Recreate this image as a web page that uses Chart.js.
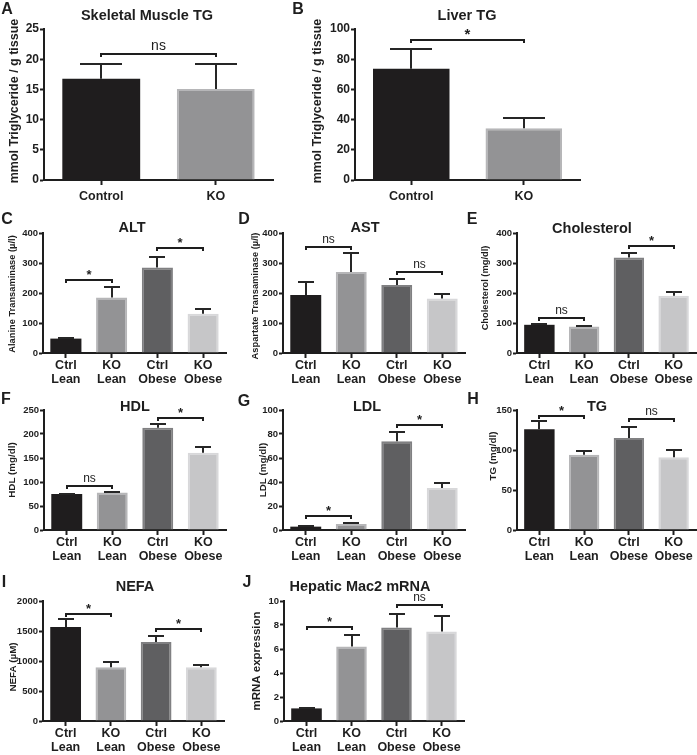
<!DOCTYPE html>
<html>
<head>
<meta charset="utf-8">
<script src="https://cdn.jsdelivr.net/npm/chart.js@4.4.0/dist/chart.umd.min.js"></script>
<style>
  body { margin: 0; background: #fff; width: 697px; height: 755px; position: relative; overflow: hidden; }
  canvas { position: absolute; }
</style>
</head>
<body>
<script>
// categories
var tissueLabels = ['Control', 'KO'];
var groupLabels = [['Ctrl', 'Lean'], ['KO', 'Lean'], ['Ctrl', 'Obese'], ['KO', 'Obese']];

// means and SEM (upper error only)
var muscleTG = [16.75, 15.05];     var muscleTGSem = [2.5, 4.2];
var liverTG = [73.7, 34.3];        var liverTGSem = [13.2, 6.6];
var alt = [48, 185, 285, 131];     var altSem = [2, 36, 35, 15];
var ast = [193, 270, 227, 182];    var astSem = [45, 62, 20, 15];
var chol = [94, 88, 318, 191];     var cholSem = [2, 2, 14, 13];
var hdl = [75, 78, 213, 161];      var hdlSem = [1, 1.5, 7, 11];
var ldl = [2.8, 5, 74, 35];        var ldlSem = [0.3, 0.6, 8, 4];
var tg = [126, 94, 115, 91];       var tgSem = [10, 4.5, 14, 9];
var nefa = [1565, 895, 1315, 895]; var nefaSem = [130, 85, 100, 40];
var mac2 = [1.05, 6.2, 7.8, 7.45]; var mac2Sem = [0.07, 0.95, 1.15, 1.3];

// significance brackets: [from, to, height, label]
var muscleSig = [[0, 1, 20.9, 'ns']];
var liverSig = [[0, 1, 92.4, '*']];
var altSig = [[0, 1, 243, '*'], [2, 3, 350, '*']];
var astSig = [[0, 1, 352, 'ns'], [2, 3, 271, 'ns']];
var cholSig = [[0, 1, 116, 'ns'], [2, 3, 358, '*']];
var hdlSig = [[0, 1, 92, 'ns'], [2, 3, 234, '*']];
var ldlSig = [[0, 1, 12, '*'], [2, 3, 87.5, '*']];
var tgSig = [[0, 1, 143, '*'], [2, 3, 139, 'ns']];
var nefaSig = [[0, 1, 1776, '*'], [2, 3, 1529, '*']];
var mac2Sig = [[0, 1, 7.8, '*'], [2, 3, 9.65, 'ns']];

var FAM = '"Liberation Sans", Arial, Helvetica, sans-serif';
var fill4 = ['#1f1d1e', '#939395', '#5f5f61', '#c6c6c8'];
var edge4 = ['#1f1d1e', '#b6b6b8', '#808082', '#d8d8da'];
var INK = '#1e1e1e';

function panel(p) {
  var bx = p.box[0], by = p.box[1], bw = p.box[2], bh = p.box[3];
  var cv = document.createElement('canvas');
  cv.width = bw; cv.height = bh;
  cv.style.left = bx + 'px'; cv.style.top = by + 'px';
  document.body.appendChild(cv);
  var n = p.values.length;

  var decor = {
    id: 'decor',
    afterDatasetsDraw: function (chart) {
      var ctx = chart.ctx, xs = chart.scales.x, ys = chart.scales.y;
      var meta = chart.getDatasetMeta(0);
      ctx.save();
      ctx.strokeStyle = '#262626';
      ctx.lineWidth = 2;
      // error bars
      for (var i = 0; i < n; i++) {
        var bar = meta.data[i];
        var x = Math.round(bar.x);
        var half = Math.round(bar.width * 0.27);
        var y0 = ys.getPixelForValue(p.values[i]);
        var y1 = Math.round(ys.getPixelForValue(p.values[i] + p.sem[i]));
        ctx.beginPath();
        ctx.moveTo(x, y0); ctx.lineTo(x, y1);
        ctx.moveTo(x - half, y1); ctx.lineTo(x + half, y1);
        ctx.stroke();
      }
      // brackets
      ctx.strokeStyle = INK;
      ctx.fillStyle = INK;
      ctx.textAlign = 'center';
      ctx.textBaseline = 'bottom';
      p.sig.forEach(function (b) {
        var x0 = Math.round(xs.getPixelForValue(b[0]));
        var x1 = Math.round(xs.getPixelForValue(b[1]));
        var y = Math.round(ys.getPixelForValue(b[2]));
        ctx.beginPath();
        ctx.moveTo(x0, y + 3); ctx.lineTo(x0, y); ctx.lineTo(x1, y); ctx.lineTo(x1, y + 3);
        ctx.stroke();
        if (b[3] === 'ns') {
          ctx.font = 'normal ' + p.nsSize + 'px ' + FAM;
          ctx.fillText('ns', (x0 + x1) / 2, y - 1);
        } else {
          ctx.font = 'bold ' + (p.nsSize + 1) + 'px ' + FAM;
          ctx.fillText('*', (x0 + x1) / 2, y + 2);
        }
      });
      ctx.restore();
    },
    afterDraw: function (chart) {
      var ctx = chart.ctx;
      ctx.save();
      ctx.fillStyle = INK;
      ctx.textAlign = 'center';
      ctx.textBaseline = 'middle';
      ctx.font = 'bold 14.5px ' + FAM;
      ctx.fillText(p.title, p.titleAt[0] - bx, p.titleAt[1] - by);
      ctx.font = 'bold 16px ' + FAM;
      ctx.fillText(p.letter, p.letterAt[0] - bx, p.letterAt[1] - by);
      ctx.translate(p.yTitleAt[0] - bx, p.yTitleAt[1] - by);
      ctx.rotate(-Math.PI / 2);
      ctx.font = 'bold ' + p.yTitleSize + 'px ' + FAM;
      ctx.fillText(p.yTitle, 0, 0);
      ctx.restore();
    }
  };

  new Chart(cv, {
    type: 'bar',
    data: {
      labels: p.labels,
      datasets: [{
        data: p.values,
        backgroundColor: fill4.slice(0, n),
        borderColor: edge4.slice(0, n),
        borderWidth: [0, 2, 2, 2].slice(0, n),
        barPercentage: 0.68,
        categoryPercentage: 1
      }]
    },
    options: {
      responsive: false,
      animation: false,
      devicePixelRatio: 1,
      layout: { padding: { left: 0, right: bx + bw - p.plot[1], top: p.plot[2] - by, bottom: 0 } },
      plugins: { legend: { display: false }, tooltip: { enabled: false } },
      scales: {
        x: {
          offset: true,
          grid: { offset: false, drawOnChartArea: false, tickLength: 5, tickWidth: 2, tickColor: INK },
          border: { color: INK, width: 2 },
          ticks: {
            color: INK, autoSkip: false, maxRotation: 0, padding: p.labelPad,
            font: { family: FAM, size: 12.5, weight: 'bold', lineHeight: 1.12 }
          },
          afterFit: function (s) { s.height = by + bh - p.plot[3]; }
        },
        y: {
          min: 0, max: p.yMax,
          grid: { drawOnChartArea: false, tickLength: 4, tickWidth: 2, tickColor: INK },
          border: { color: INK, width: 2 },
          ticks: {
            stepSize: p.step, color: INK, padding: 1,
            font: { family: FAM, size: p.tickSize, weight: 'bold' },
            callback: function (v) { return String(v); }
          },
          afterFit: function (s) { s.width = p.plot[0] - bx; }
        }
      }
    },
    plugins: [decor]
  });
}

panel({ box: [0, 0, 290, 210], plot: [44, 273, 29, 180], labels: tissueLabels,
  values: muscleTG, sem: muscleTGSem, sig: muscleSig, yMax: 25, step: 5, tickSize: 12, nsSize: 14, labelPad: 5,
  title: 'Skeletal Muscle TG', titleAt: [147, 16], letter: 'A', letterAt: [7, 10],
  yTitle: 'mmol Triglyceride / g tissue', yTitleAt: [15, 101], yTitleSize: 12.5 });

panel({ box: [290, 0, 300, 210], plot: [355, 580, 29, 180], labels: tissueLabels,
  values: liverTG, sem: liverTGSem, sig: liverSig, yMax: 100, step: 20, tickSize: 12, nsSize: 14, labelPad: 5,
  title: 'Liver TG', titleAt: [467, 16], letter: 'B', letterAt: [298, 10],
  yTitle: 'mmol Triglyceride / g tissue', yTitleAt: [318, 101], yTitleSize: 12.5 });

panel({ box: [0, 210, 232, 178], plot: [43, 226, 233, 353], labels: groupLabels,
  values: alt, sem: altSem, sig: altSig, yMax: 400, step: 100, tickSize: 9.5, nsSize: 12, labelPad: 1,
  title: 'ALT', titleAt: [132, 228], letter: 'C', letterAt: [7, 220],
  yTitle: 'Alanine Transaminase (\u00b5/l)', yTitleAt: [12.5, 294], yTitleSize: 9.3 });

panel({ box: [230, 210, 240, 178], plot: [283, 465, 233, 353], labels: groupLabels,
  values: ast, sem: astSem, sig: astSig, yMax: 400, step: 100, tickSize: 9.5, nsSize: 12, labelPad: 1,
  title: 'AST', titleAt: [365, 228], letter: 'D', letterAt: [244, 220],
  yTitle: 'Aspartate Transaminase (\u00b5/l)', yTitleAt: [255, 296], yTitleSize: 9.3 });

panel({ box: [460, 210, 237, 178], plot: [517, 696, 233, 353], labels: groupLabels,
  values: chol, sem: cholSem, sig: cholSig, yMax: 400, step: 100, tickSize: 9.5, nsSize: 12, labelPad: 1,
  title: 'Cholesterol', titleAt: [592, 229], letter: 'E', letterAt: [472, 220],
  yTitle: 'Cholesterol (mg/dl)', yTitleAt: [485, 288], yTitleSize: 9.3 });

panel({ box: [0, 388, 232, 177], plot: [44, 226, 410, 530], labels: groupLabels,
  values: hdl, sem: hdlSem, sig: hdlSig, yMax: 250, step: 50, tickSize: 9.5, nsSize: 12, labelPad: 1,
  title: 'HDL', titleAt: [135, 407], letter: 'F', letterAt: [6, 400],
  yTitle: 'HDL (mg/dl)', yTitleAt: [12, 470], yTitleSize: 9.8 });

panel({ box: [230, 388, 240, 177], plot: [283, 465, 410, 530], labels: groupLabels,
  values: ldl, sem: ldlSem, sig: ldlSig, yMax: 100, step: 20, tickSize: 9.5, nsSize: 12, labelPad: 1,
  title: 'LDL', titleAt: [367, 407], letter: 'G', letterAt: [244, 402],
  yTitle: 'LDL (mg/dl)', yTitleAt: [263, 470], yTitleSize: 9.8 });

panel({ box: [460, 388, 237, 177], plot: [517, 696, 410, 530], labels: groupLabels,
  values: tg, sem: tgSem, sig: tgSig, yMax: 150, step: 50, tickSize: 9.5, nsSize: 12, labelPad: 1,
  title: 'TG', titleAt: [597, 407], letter: 'H', letterAt: [473, 400],
  yTitle: 'TG (mg/dl)', yTitleAt: [493, 456], yTitleSize: 9.8 });

panel({ box: [0, 565, 232, 190], plot: [43, 224, 601, 721], labels: groupLabels,
  values: nefa, sem: nefaSem, sig: nefaSig, yMax: 2000, step: 500, tickSize: 9.5, nsSize: 12, labelPad: 1,
  title: 'NEFA', titleAt: [135, 587], letter: 'I', letterAt: [4, 583],
  yTitle: 'NEFA (\u00b5M)', yTitleAt: [13, 667], yTitleSize: 9.8 });

panel({ box: [230, 565, 240, 190], plot: [284, 464, 601, 721], labels: groupLabels,
  values: mac2, sem: mac2Sem, sig: mac2Sig, yMax: 10, step: 2, tickSize: 9.5, nsSize: 12, labelPad: 1,
  title: 'Hepatic Mac2 mRNA', titleAt: [360, 587], letter: 'J', letterAt: [247, 583],
  yTitle: 'mRNA expression', yTitleAt: [257, 661], yTitleSize: 11.5 });
</script>
</body>
</html>
